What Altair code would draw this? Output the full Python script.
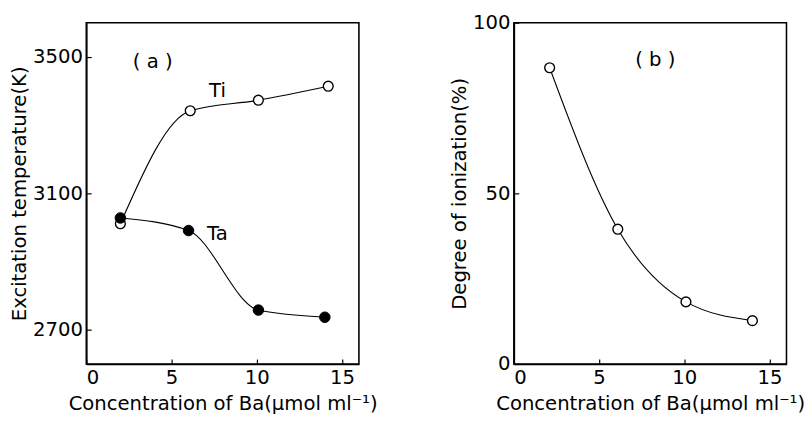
import altair as alt
import pandas as pd

# ---- data ----
conc_ti = [2.0, 6.1, 10.1, 14.2]
temp_ti = [3011, 3342, 3373, 3414]
conc_ta = [2.0, 6.0, 10.1, 14.0]
temp_ta = [3028, 2991, 2758, 2737]
conc_b = [2.1, 6.1, 10.1, 14.0]
ioniz = [86.8, 39.5, 18.2, 12.7]

x_ticks = [0, 5, 10, 15]
ya_ticks = [2700, 3100, 3500]
yb_ticks = [0, 50, 100]

labels_a = ["( a )", "Ti", "Ta"]
labels_a_x = [3.9, 7.7, 7.7]
labels_a_y = [3486, 3399, 2982]
labels_b = ["( b )"]
labels_b_x = [8.3]
labels_b_y = [88.9]

FONT = "DejaVu Sans"
FS = 20
XTITLE = "Concentration of Ba(μmol ml⁻¹)"

df_ti = pd.DataFrame({"x": conc_ti, "y": temp_ti})
df_ta = pd.DataFrame({"x": conc_ta, "y": temp_ta})
df_b = pd.DataFrame({"x": conc_b, "y": ioniz})
df_la = pd.DataFrame({"x": labels_a_x, "y": labels_a_y, "t": labels_a})
df_lb = pd.DataFrame({"x": labels_b_x, "y": labels_b_y, "t": labels_b})

TICK = alt.ExprRef(expr="-5")


def xenc():
    return alt.X(
        "x:Q",
        scale=alt.Scale(domain=[0, 16], nice=False, zero=False),
        axis=alt.Axis(values=x_ticks, title=XTITLE, tickSize=TICK, labelPadding=9,
                      titlePadding=6, format="d"),
    )


def yenc(domain, ticks, title):
    return alt.Y(
        "y:Q",
        scale=alt.Scale(domain=domain, nice=False, zero=False),
        axis=alt.Axis(values=ticks, title=title, tickSize=TICK, labelPadding=9,
                      titlePadding=3, format="d"),
    )


W, H = 278, 348

ya = yenc([2600, 3600], ya_ticks, "Excitation temperature(K)")
line_ti = alt.Chart(df_ti).mark_line(interpolate="monotone", color="black", strokeWidth=1.1).encode(x=xenc(), y=ya)
line_ta = alt.Chart(df_ta).mark_line(interpolate="monotone", color="black", strokeWidth=1.1).encode(x=xenc(), y=ya)
pt_ti = alt.Chart(df_ti).mark_point(shape="circle", filled=True, fill="white", stroke="black",
                                    strokeWidth=1.4, size=100, opacity=1).encode(x=xenc(), y=ya)
pt_ta = alt.Chart(df_ta).mark_point(shape="circle", filled=True, fill="black", stroke="black",
                                    strokeWidth=1, size=115, opacity=1).encode(x=xenc(), y=ya)
txt_a = alt.Chart(df_la).mark_text(font=FONT, fontSize=FS, color="black").encode(x=xenc(), y=ya, text="t:N")
panel_a = alt.layer(line_ti, line_ta, pt_ti, pt_ta, txt_a).properties(width=W, height=H)

yb = yenc([0, 100], yb_ticks, "Degree of ionization(%)")
line_b = alt.Chart(df_b).mark_line(interpolate="monotone", color="black", strokeWidth=1.1).encode(x=xenc(), y=yb)
pt_b = alt.Chart(df_b).mark_point(shape="circle", filled=True, fill="white", stroke="black",
                                  strokeWidth=1.4, size=100, opacity=1).encode(x=xenc(), y=yb)
txt_b = alt.Chart(df_lb).mark_text(font=FONT, fontSize=FS, color="black").encode(x=xenc(), y=yb, text="t:N")
panel_b = alt.layer(line_b, pt_b, txt_b).properties(width=W, height=H)

chart = (
    alt.hconcat(panel_a, panel_b, spacing=72)
    .properties(padding={"left": 9, "top": 8, "right": 5, "bottom": 5}, background="white")
    .configure_view(stroke="black", strokeWidth=1.6)
    .configure_axis(
        grid=False,
        domainColor="black",
        domainWidth=1.6,
        tickColor="black",
        tickWidth=1.2,
        labelFont=FONT,
        labelFontSize=FS,
        labelColor="black",
        titleFont=FONT,
        titleFontSize=FS,
        titleFontWeight="normal",
        titleColor="black",
    )
)

chart.save("out.html", embed_options={"renderer": "svg", "actions": False})
